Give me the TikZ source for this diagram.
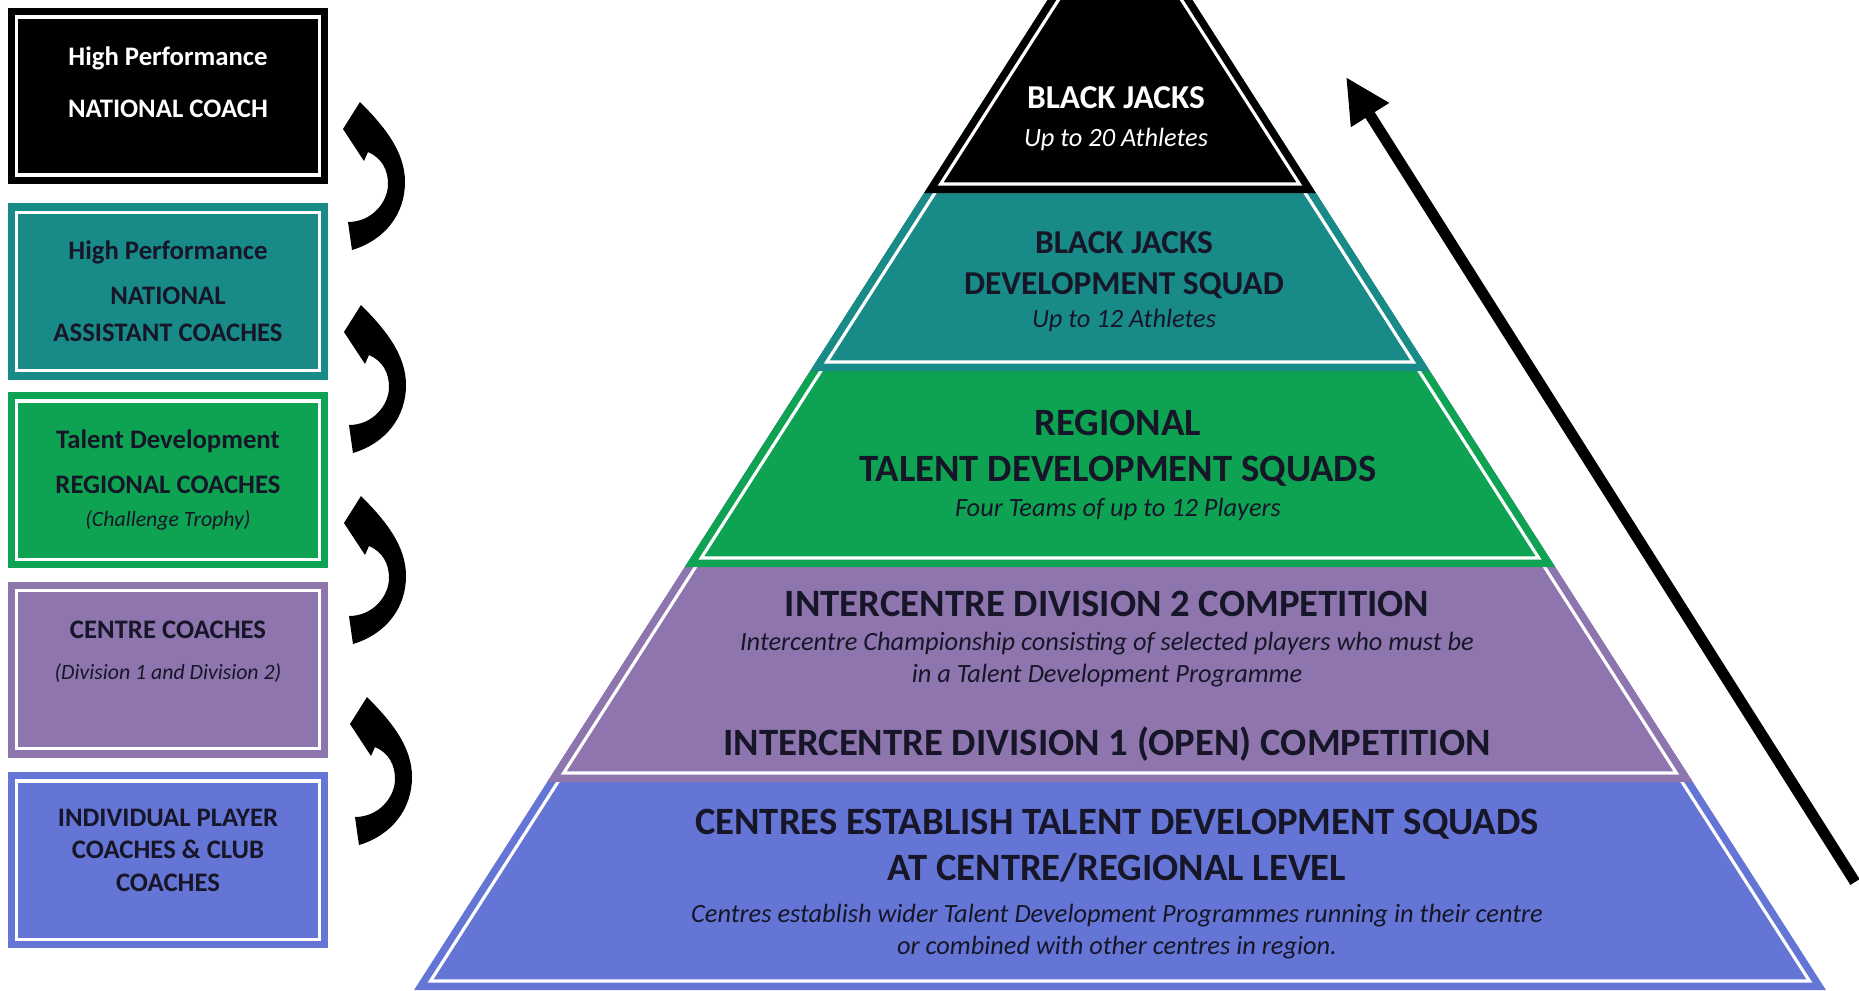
\documentclass[tikz,border=0pt]{standalone}
\usepackage{fontspec}
\setmainfont{Carlito}
\usepackage{tikz}
\usetikzlibrary{positioning,arrows.meta}

\definecolor{tierteal}{RGB}{24,139,136}
\definecolor{tiergreen}{RGB}{14,163,82}
\definecolor{tierpurple}{RGB}{142,117,174}
\definecolor{tierblue}{RGB}{100,117,213}
\definecolor{inkdark}{RGB}{22,22,40}

\newcommand\tiernote[1]{{\fontsize{7.5}{9}\selectfont\mdseries\itshape #1}}
\newcommand\boxnote[1]{{\fontsize{6.2}{9.2}\selectfont\mdseries\itshape #1}}

\tikzset{
	coachbox/.style={rectangle,minimum width=3.2cm,minimum height=1.76cm,inner sep=0pt,align=center,text=inkdark,
		font=\fontsize{7.6}{9.2}\selectfont\bfseries,
		path picture={\draw[white,line width=0.9pt] ([shift={(0.09cm,0.09cm)}]path picture bounding box.south west) rectangle ([shift={(-0.09cm,-0.09cm)}]path picture bounding box.north east);}},
	tiertext/.style={align=center,inner sep=0pt,text=inkdark,font=\fontsize{11}{9}\selectfont\bfseries},
	toptier/.style={tiertext,font=\fontsize{9.5}{9}\selectfont\bfseries},
	climb/.style={line width=3.1pt,-{Triangle[length=0.45cm,width=0.42cm]}}
}

\begin{document}
\begin{tikzpicture}[x=0.01cm,y=-0.01cm]
	\useasboundingbox (0,0) rectangle (1859,990);
	\fill[white] (0,0) rectangle (1859,990);

	% pyramid, widest tier first
	\begin{scope}
	\clip (0,0) rectangle (1859,990);
	\foreach \yb/\tier in {990/tierblue,782/tierpurple,567/tiergreen,371/tierteal,193/black}{
		\pgfmathsetmacro\hw{0.64*(\yb+113)}
		\pgfmathsetmacro\hi{0.64*(\yb+87.3)}
		\fill[\tier] (1120,-113) -- ({1120+\hw},\yb) -- ({1120-\hw},\yb) -- cycle;
		\draw[white,line width=0.9pt] (1120,-96.3) -- ({1120+\hi},\yb-9) -- ({1120-\hi},\yb-9) -- cycle;
	}
	\end{scope}

	\node[toptier,text=white] (jacks) at (1116,119) {BLACK JACKS\\[1.8pt]\tiernote{Up to 20 Athletes}};
	\node[toptier] (devsquad) at (1124,282) {BLACK JACKS\\[2.4pt]DEVELOPMENT SQUAD\\[0.6pt]\tiernote{Up to 12 Athletes}};
	\node[tiertext] (regsquad) at (1118,465) {REGIONAL\\[4.1pt]TALENT DEVELOPMENT SQUADS\\[0.9pt]\tiernote{Four Teams of up to 12 Players}};
	\node[tiertext] (divtwo) at (1107,639) {INTERCENTRE DIVISION 2 COMPETITION\\[0.9pt]\tiernote{Intercentre Championship consisting of selected players who must be}\\[0.1pt]\tiernote{in a Talent Development Programme}};
	\node[tiertext] (divone) at (1107,744) {INTERCENTRE DIVISION 1 (OPEN) COMPETITION};
	\node[tiertext] (centres) at (1117,884) {CENTRES ESTABLISH TALENT DEVELOPMENT SQUADS\\[3pt]AT CENTRE/REGIONAL LEVEL\\[2.9pt]\tiernote{Centres establish wider Talent Development Programmes running in their centre}\\[0.1pt]\tiernote{or combined with other centres in region.}};

	% coaching pathway
	\node[coachbox,fill=black,text=white,text depth=0.28cm] (natcoach) at (168,96) {High Performance\\[5.8pt]NATIONAL COACH};
	\node[coachbox,fill=tierteal,below=0.18cm of natcoach] (asstcoach) {High Performance\\[3.6pt]NATIONAL\\[1.3pt]ASSISTANT COACHES};
	\node[coachbox,fill=tiergreen,below=0.11cm of asstcoach] (regcoach) {Talent Development\\[3.6pt]REGIONAL COACHES\\[0.2pt]\boxnote{(Challenge Trophy)}};
	\node[coachbox,fill=tierpurple,text depth=0.38cm,below=0.12cm of regcoach] (centrecoach) {CENTRE COACHES\\[2.5pt]\boxnote{(Division 1 and Division 2)}};
	\node[coachbox,fill=tierblue,text depth=0.2cm,below=0.13cm of centrecoach] (clubcoach) {INDIVIDUAL PLAYER\\COACHES \& CLUB\\COACHES};

	% curved arrows up the coach boxes
	\foreach \ax/\ay in {360/102,361/305,361/496,367/697}{
		\fill[shift={(\ax,\ay)}] (0,0) -- (-17,27) -- (4,59) -- (8,50)
			.. controls (22,56) and (28,68) .. (28,82)
			.. controls (28,100) and (12,120) .. (-12,120) -- (-8,148)
			.. controls (25,138) and (45,112) .. (45,80)
			.. controls (45,50) and (25,25) .. (0,0) -- cycle;
	}

	\coordinate (climb-tail) at (1855,882);
	\coordinate (climb-head) at (1346,77);
	\draw[climb] (climb-tail) -- (climb-head);
\end{tikzpicture}
\end{document}
